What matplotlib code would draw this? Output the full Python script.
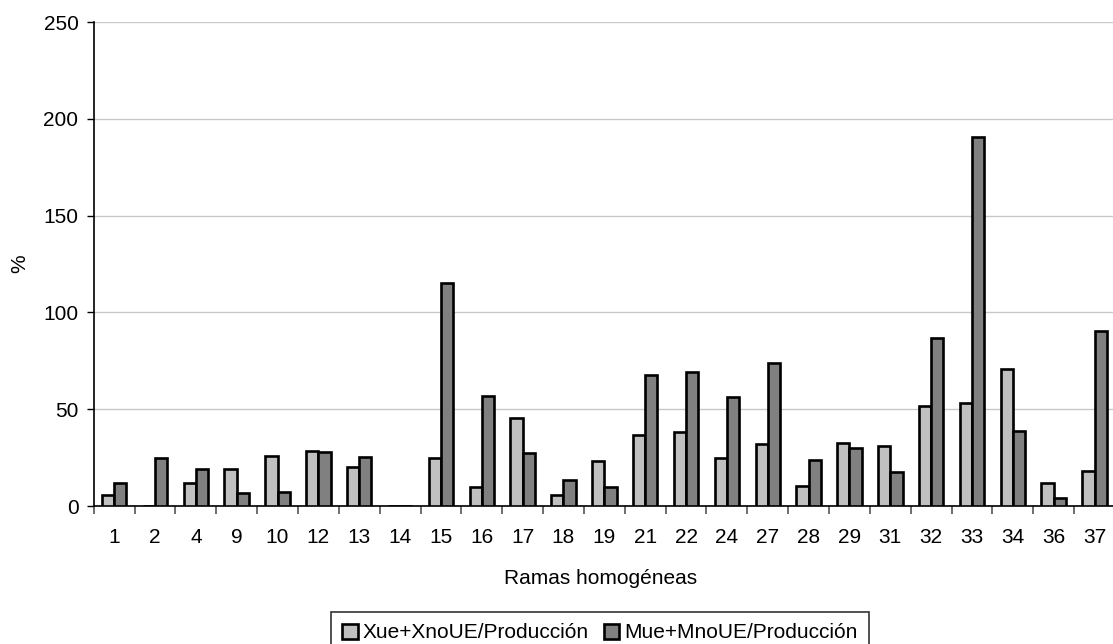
import matplotlib
matplotlib.use("Agg")
import matplotlib.pyplot as plt
import numpy as np

plt.rcParams['font.family'] = ['Liberation Sans', 'DejaVu Sans']

# Ramas homogéneas y ratios (%) sobre la producción
ramas = ["1", "2", "4", "9", "10", "12", "13", "14", "15", "16", "17", "18", "19",
         "21", "22", "24", "27", "28", "29", "31", "32", "33", "34", "36", "37"]
export_ratio = [5.5, 0, 12, 19, 25.8, 28.5, 20, 0, 24.6, 9.6, 45.5, 5.5, 23.2,
                36.6, 38.3, 24.7, 32.1, 10.3, 32.6, 30.9, 51.5, 53.1, 70.6, 11.9, 18]
import_ratio = [11.7, 25, 18.9, 6.5, 7.4, 27.8, 25.4, 0, 115.1, 56.9, 27.3, 13.4, 9.6,
                67.5, 69.2, 56.3, 73.9, 23.7, 29.9, 17.7, 86.6, 190.8, 38.8, 3.9, 90.5]
series_labels = ["Xue+XnoUE/Producción", "Mue+MnoUE/Producción"]
y_ticks = [0, 50, 100, 150, 200, 250]

FS = 15
W, H = 1113, 644
fig = plt.figure(figsize=(W / 100, H / 100), dpi=100)
left, right, top, bottom = 93.7, 1115, 22, 506
ax = fig.add_axes([left / W, 1 - bottom / H, (right - left) / W, (bottom - top) / H])

x = np.arange(len(ramas))
bw = 0.30
ax.bar(x - bw / 2, export_ratio, bw, color="#C0C0C0", edgecolor="black",
       linewidth=1.9, label=series_labels[0], zorder=3)
ax.bar(x + bw / 2, import_ratio, bw, color="#808080", edgecolor="black",
       linewidth=1.9, label=series_labels[1], zorder=3)

ax.set_xlim(-0.5, len(ramas) - 0.5)
ax.set_ylim(0, 250)
ax.set_yticks(y_ticks)
ax.yaxis.grid(True, color="#C8C8C8", linewidth=1.0, zorder=0)
ax.set_axisbelow(True)

# category labels centred, tick marks between categories
ax.set_xticks(x)
ax.set_xticklabels(ramas)
ax.tick_params(axis="x", which="major", length=0, pad=16, labelsize=FS)
ax.set_xticks(np.arange(len(ramas) + 1) - 0.5, minor=True)
ax.tick_params(axis="x", which="minor", length=6, width=1.2, color="#555555")
ax.tick_params(axis="y", length=5, width=1.0, labelsize=FS, pad=6)

for s in ["top", "right"]:
    ax.spines[s].set_visible(False)
for s in ["left", "bottom"]:
    ax.spines[s].set_color("black")
    ax.spines[s].set_linewidth(1.2)

ax.set_xlabel("Ramas homogéneas", fontsize=FS)
ax.xaxis.set_label_coords((601 - left) / (right - left), -(578 - bottom) / (bottom - top))
ax.xaxis.label.set_va("center")
ax.set_ylabel("%", fontsize=FS)
ax.yaxis.set_label_coords(-(left - 20) / (right - left), 0.5)
ax.yaxis.label.set_va("center")

leg = fig.legend(loc="upper center", bbox_to_anchor=(600 / W, 1 - 612 / H),
                 ncol=2, frameon=True, fancybox=False, fontsize=FS,
                 handlelength=0.75, handleheight=0.75, handletextpad=0.25,
                 columnspacing=0.7, borderpad=0.55, borderaxespad=0)
leg.get_frame().set_edgecolor("black")
leg.get_frame().set_linewidth(1.2)

fig.savefig("out.png", dpi=100)
